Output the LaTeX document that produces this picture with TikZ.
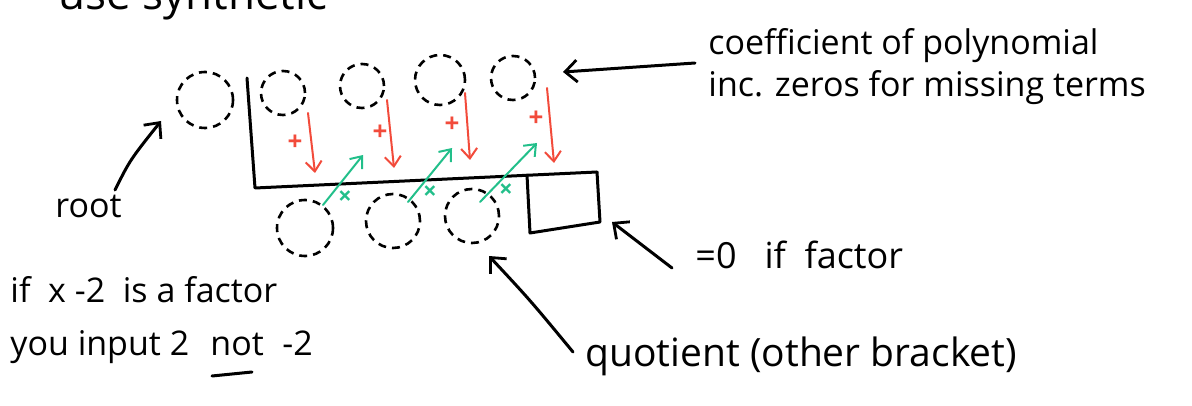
\documentclass[tikz,border=0pt]{standalone}
\usepackage{fontspec}
\setmainfont{Open Sans}
\usetikzlibrary{arrows.meta}
\definecolor{penred}{HTML}{F24B3B}
\definecolor{pengreen}{HTML}{22BF8A}
\begin{document}
\begin{tikzpicture}[x=0.5pt,y=-0.5pt,
  hand/.style={font=\fontsize{17}{20}\selectfont, inner sep=0pt, anchor=base west},
  ring/.style={circle, draw, dash pattern=on 4pt off 3pt, line width=1.3pt, inner sep=0pt},
  ink/.style={line width=1.5pt, line cap=round, line join=round},
  tip/.style={-{Straight Barb[length=6pt,width=11pt,line width=1.4pt]}},
  redarrow/.style={penred, line width=1pt, line cap=round, -{Straight Barb[length=5pt,width=8pt,line width=1pt]}},
  greenarrow/.style={pengreen, line width=1pt, line cap=round, -{Straight Barb[length=5pt,width=8pt,line width=1pt]}},
  plus/.style={penred, font=\fontsize{13}{14}\selectfont\bfseries, inner sep=0pt},
  times/.style={pengreen, font=\fontsize{12}{14}\selectfont\bfseries, inner sep=0pt}
]
\useasboundingbox (0,0) rectangle (1192,406);
\clip (0,0) rectangle (1192,406);

% cut-off heading
\node[hand, font=\fontsize{22}{24}\selectfont] (head) at (58,10) {use synthetic};

% bracket and remainder box
\coordinate (brTop) at (247,78);
\coordinate (brCorner) at (255,188);
\coordinate (brEnd) at (597,172);
\draw[ink] (brTop) -- (brCorner) -- (brEnd);
\node[inner sep=0pt, minimum width=36pt, minimum height=28pt] (rem) at (563,202) {};
\draw[ink] (527,175) -- (530,233) -- (600,222) -- (597,172);

% coefficient and quotient rings
\node[ring, minimum size=28pt] (r0) at (205,100) {};
\node[ring, minimum size=22pt] (c1) at (283,93) {};
\node[ring, minimum size=22pt] (c2) at (362,86) {};
\node[ring, minimum size=25pt] (c3) at (440,80) {};
\node[ring, minimum size=22pt] (c4) at (513,78) {};
\node[ring, minimum size=28pt] (q1) at (305,228) {};
\node[ring, minimum size=27pt] (q2) at (393,221) {};
\node[ring, minimum size=27pt] (q3) at (472,216) {};

% red down arrows
\coordinate (a1) at (308,113); \coordinate (b1) at (315,173);
\coordinate (a2) at (387,100); \coordinate (b2) at (394,168);
\coordinate (a3) at (465,93);  \coordinate (b3) at (470,160);
\coordinate (a4) at (547,88);  \coordinate (b4) at (554,163);
\draw[redarrow] (a1) -- (b1);
\draw[redarrow] (a2) -- (b2);
\draw[redarrow] (a3) -- (b3);
\draw[redarrow] (a4) -- (b4);
\node[plus] (p1) at (295,143) {+};
\node[plus] (p2) at (380,133) {+};
\node[plus] (p3) at (452,125) {+};
\node[plus] (p4) at (536,119) {+};

% green diagonal arrows
\coordinate (g1) at (323,205); \coordinate (h1) at (363,155);
\coordinate (g2) at (408,202); \coordinate (h2) at (452,148);
\coordinate (g3) at (480,202); \coordinate (h3) at (537,143);
\draw[greenarrow] (g1) -- (h1);
\draw[greenarrow] (g2) -- (h2);
\draw[greenarrow] (g3) -- (h3);
\node[times] (x1) at (345,198) {×};
\node[times] (x2) at (430,193) {×};
\node[times] (x3) at (506,191) {×};

% labels
\node[hand] (coef) at (708,55) {coefficient of polynomial};
\node[hand] (zeros) at (708,97) {inc. zeros for missing terms};
\node[hand] (root) at (55,218) {root};
\node[hand, font=\fontsize{18}{20}\selectfont] (zero) at (695,268) {=0\ \ \ if\ \ factor};
\node[hand, font=\fontsize{19.5}{22}\selectfont] (quot) at (585,366) {quotient (other bracket)};
\node[hand] (iff) at (10,302) {if\ \ x -2 \ is a factor};
\node[hand] (you) at (10,355) {you input 2};
\node[hand] (not) at (210,355) {not};
\node[hand] (neg) at (282,355) {-2};

% underline of "not"
\coordinate (u1) at (212,376); \coordinate (u2) at (252,372);
\draw[ink] (u1) -- (u2);

% pointer arrows
\coordinate (coefTail) at (695,63); \coordinate (coefTip) at (563,72);
\draw[ink,tip] (coefTail) -- (coefTip);
\coordinate (rootTail) at (115,190); \coordinate (rootTip) at (161,121);
\draw[ink,tip] (rootTail) .. controls (130,160) .. (rootTip);
\coordinate (zeroTail) at (672,268); \coordinate (zeroTip) at (612,222);
\draw[ink,tip] (zeroTail) -- (zeroTip);
\coordinate (quotTail) at (573,352); \coordinate (quotTip) at (489,256);
\draw[ink,tip] (quotTail) .. controls (530,300) .. (quotTip);
\end{tikzpicture}
\end{document}
